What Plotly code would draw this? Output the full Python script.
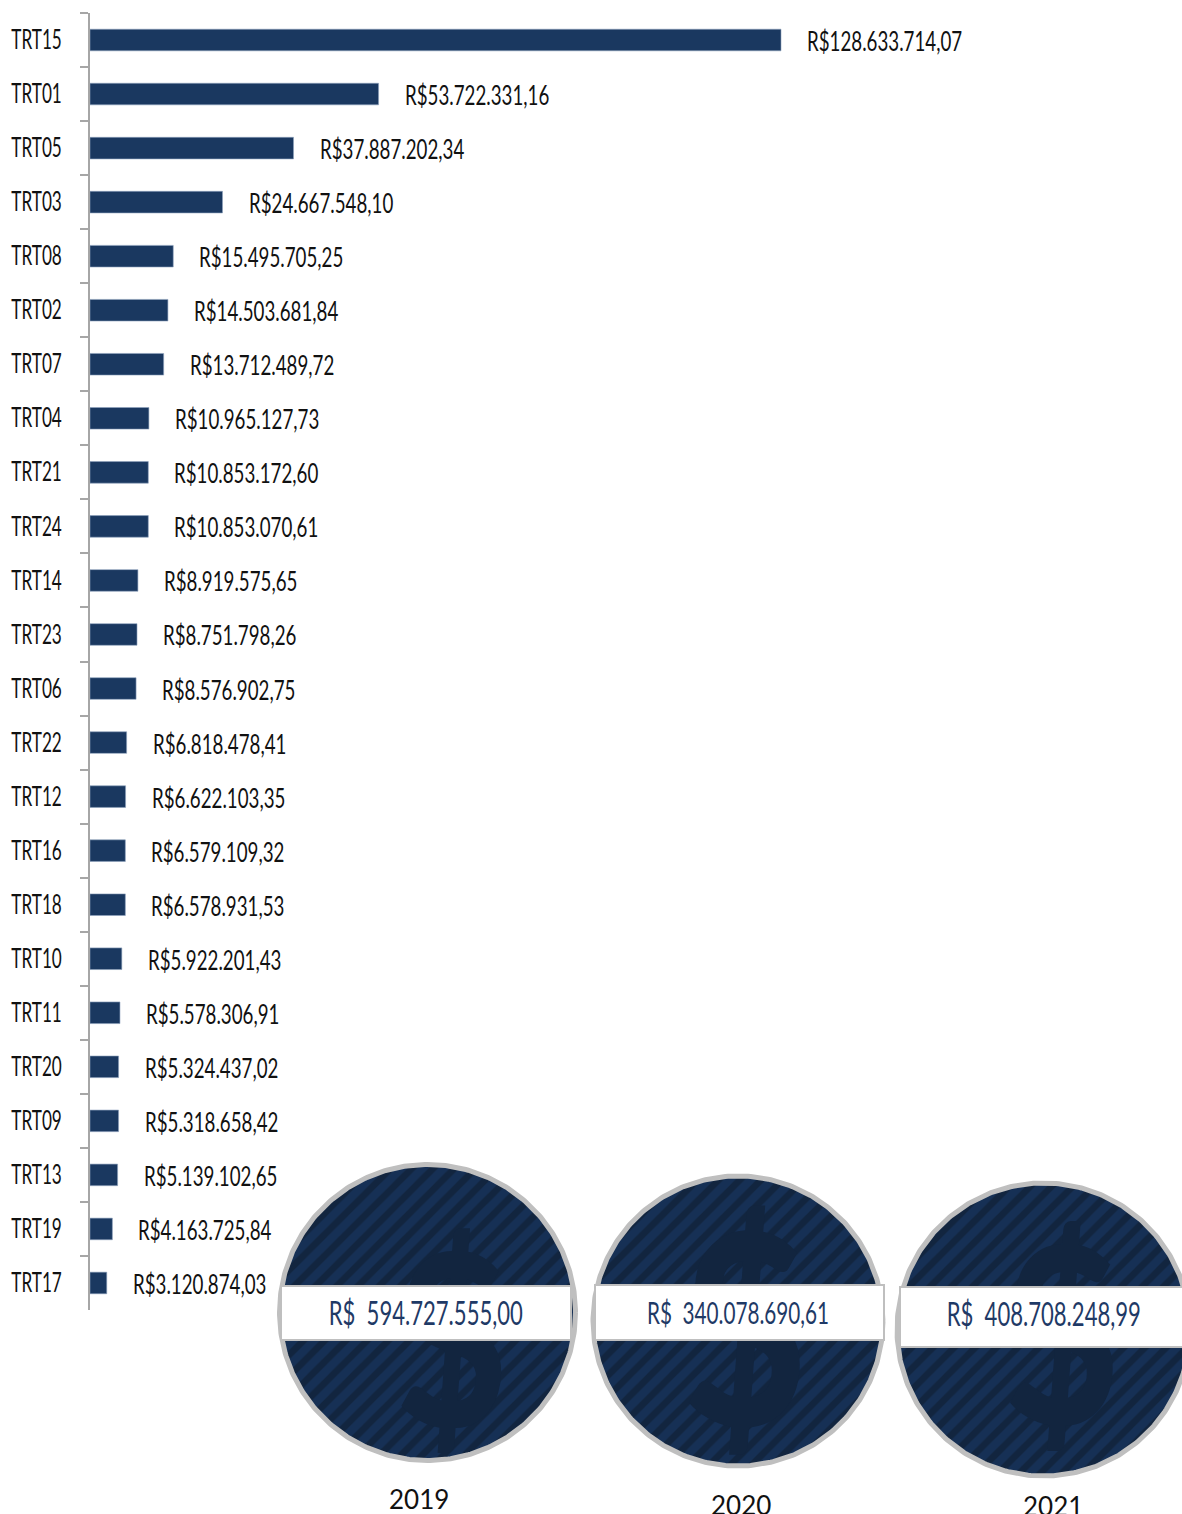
import numpy as np
import plotly.graph_objects as go

W, H = 1182, 1514
categories = ["TRT15","TRT01","TRT05","TRT03","TRT08","TRT02","TRT07","TRT04","TRT21","TRT24","TRT14","TRT23",
              "TRT06","TRT22","TRT12","TRT16","TRT18","TRT10","TRT11","TRT20","TRT09","TRT13","TRT19","TRT17"]
values = [128633714.07,53722331.16,37887202.34,24667548.10,15495705.25,14503681.84,13712489.72,10965127.73,
          10853172.60,10853070.61,8919575.65,8751798.26,8576902.75,6818478.41,6622103.35,6579109.32,
          6578931.53,5922201.43,5578306.91,5324437.02,5318658.42,5139102.65,4163725.84,3120874.03]
years = ["2019","2020","2021"]
totals = ["R$  594.727.555,00","R$  340.078.690,61","R$  408.708.248,99"]

FONT = "Lato"
NAVY = "#1a3860"
DARK = "#12253f"
STRIPE = "#1a3c6c"
GRAY = "#bfbfbf"

def brl(v):
    return "R$" + f"{v:,.2f}".replace(",", "X").replace(".", ",").replace("X", ".")

xmax = values[0] * (W - 90) / 691

fig = go.Figure()
fig.add_trace(go.Bar(x=values, y=categories, orientation="h", width=0.4,
                     marker=dict(color=NAVY, line=dict(color="#8fa3bd", width=0.6)),
                     showlegend=False, hoverinfo="skip", xaxis="x", yaxis="y"))

annotations = [dict(x=v, y=c, xref="x", yref="y", text=brl(v), showarrow=False, xanchor="left",
                    xshift=24, yshift=-1, font=dict(family=FONT, size=26, color="#111111"))
               for v, c in zip(values, categories)]

circles = [(427.5, 1312.5, 148), (738, 1321, 145), (1043.5, 1329.5, 146.5)]
dollars = [(452, 1367, 240), (745, 1359, 267), (1062, 1362, 247)]
bands = [(281, 571, 1286, 1340), (595, 884, 1285, 1340), (900, 1190, 1287, 1347)]
total_pos = [(426, 1312, 32), (738, 1312, 30), (1044, 1313, 32)]
year_pos = [(419, 1499), (741, 1505), (1053, 1506)]
theta = np.linspace(0, 2 * np.pi, 361)
shapes = []
for (cx, cy, r), (dx, dy, ds), (x0, x1, y0, y1), (tx, ty, ts), (yx, yy), yr, tot in zip(
        circles, dollars, bands, total_pos, year_pos, years, totals):
    fig.add_trace(go.Scatter(x=cx + r * np.cos(theta), y=cy + r * np.sin(theta), mode="lines",
                             fill="toself", fillcolor=DARK,
                             fillpattern=dict(shape="/", bgcolor=DARK, fgcolor=STRIPE, size=15, solidity=0.55),
                             line=dict(color=GRAY, width=5), showlegend=False, hoverinfo="skip",
                             xaxis="x2", yaxis="y2"))
    fig.add_trace(go.Scatter(x=[dx], y=[dy], mode="text", text=["$"], textposition="middle center",
                             textfont=dict(family=FONT, size=ds, color=DARK, weight=900),
                             showlegend=False, hoverinfo="skip", xaxis="x2", yaxis="y2"))
    shapes.append(dict(type="rect", xref="x2", yref="y2", x0=x0, x1=x1, y0=y0, y1=y1,
                       fillcolor="white", line=dict(color=GRAY, width=2), layer="above"))
    annotations.append(dict(x=tx, y=ty, xref="x2", yref="y2", text=tot, showarrow=False,
                            font=dict(family=FONT, size=ts, color="#1f3a66")))
    annotations.append(dict(x=yx, y=yy, xref="x2", yref="y2", text=yr, showarrow=False,
                            font=dict(family=FONT, size=26, color="#111111")))

fig.update_layout(
    width=W, height=H, margin=dict(l=0, r=0, t=0, b=0, autoexpand=False),
    paper_bgcolor="white", plot_bgcolor="rgba(0,0,0,0)", showlegend=False,
    annotations=annotations, shapes=shapes,
    xaxis=dict(domain=[90 / W, 1], range=[0, xmax], visible=False, fixedrange=True, anchor="y", automargin=False),
    yaxis=dict(domain=[(H - 1310) / H, 1 - 13 / H], anchor="x", automargin=False,
               type="category", categoryorder="array", categoryarray=categories, autorange="reversed",
               tickson="boundaries", ticks="outside", ticklen=8, tickwidth=1.5, tickcolor="#a6a6a6",
               showline=True, linecolor="#a6a6a6", linewidth=2, showgrid=False,
               ticklabelstandoff=21, tickfont=dict(family=FONT, size=26, color="#111111")),
    xaxis2=dict(domain=[0, 1], range=[0, W], visible=False, anchor="y2", automargin=False),
    yaxis2=dict(domain=[0, 1], range=[H, 0], visible=False, anchor="x2", automargin=False),
)

# The reference uses a condensed face; squeeze the installed humanist face to the same proportions.
post = """
document.body.style.margin='0';document.body.style.overflow='hidden';
function squeeze(t,k,left){
  var w=t.getComputedTextLength();
  if(left){t.setAttribute('x',parseFloat(t.getAttribute('x'))-w/2);t.setAttribute('text-anchor','start');}
  t.setAttribute('lengthAdjust','spacingAndGlyphs');t.setAttribute('textLength',w*k);
}
document.querySelectorAll('.annotation-text').forEach(function(t){
  var s=t.textContent;
  if(/^\\d{4}$/.test(s)) return;
  if(s.indexOf(' ')>=0||s.indexOf('\\u00a0')>=0) squeeze(t,0.69,false);
  else squeeze(t,0.72,true);
});
document.querySelectorAll('g[class*="ytick"] text').forEach(function(t){squeeze(t,0.66,false);});
document.querySelectorAll('.textpoint text').forEach(function(t){squeeze(t,0.8,false);});
"""
fig.write_html("out.html", config={"displayModeBar": False}, post_script=post)
